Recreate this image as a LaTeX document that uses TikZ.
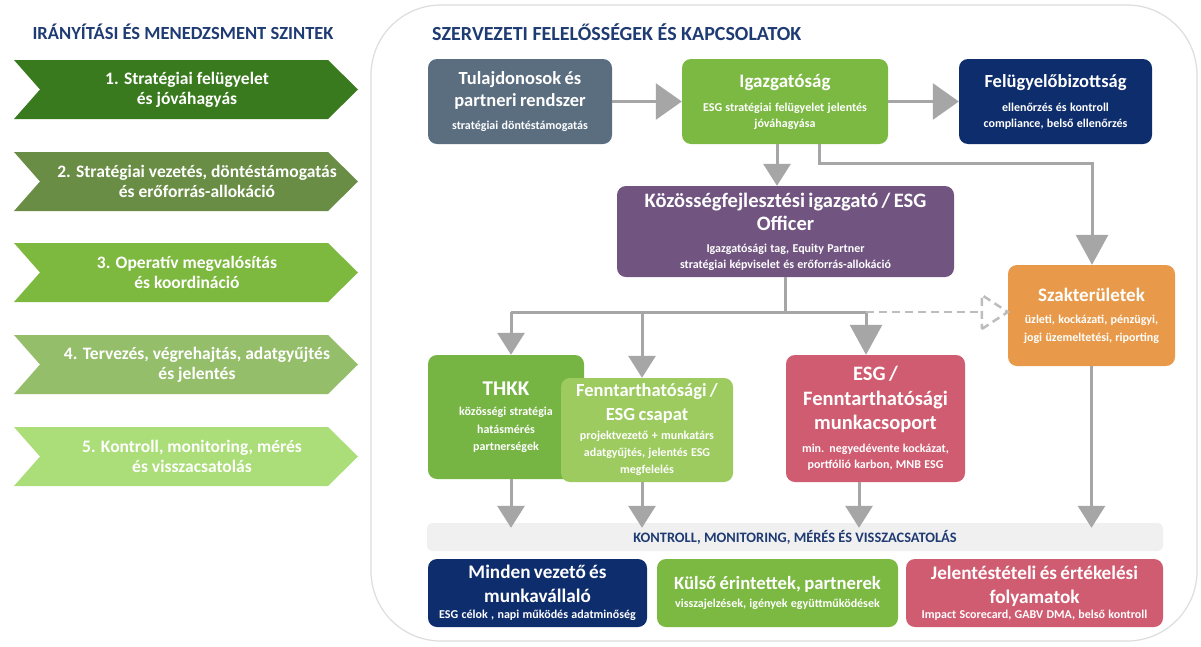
\documentclass[tikz,border=0pt]{standalone}
\usepackage{fontspec}
\setmainfont{Carlito}
\usetikzlibrary{arrows.meta}
\definecolor{navytxt}{HTML}{1F3B73}
\definecolor{chA}{HTML}{3A7A1E}
\definecolor{chB}{HTML}{6A8D45}
\definecolor{chC}{HTML}{7DB83F}
\definecolor{chD}{HTML}{95BE6B}
\definecolor{chE}{HTML}{ABDE78}
\definecolor{tulc}{HTML}{5B6E80}
\definecolor{igc}{HTML}{7CB943}
\definecolor{navyc}{HTML}{0E2D6D}
\definecolor{purc}{HTML}{715480}
\definecolor{orc}{HTML}{E89A4A}
\definecolor{thc}{HTML}{76B444}
\definecolor{fenc}{HTML}{9DCB60}
\definecolor{rosec}{HTML}{D05C71}
\definecolor{arrg}{HTML}{A6A6A6}
\definecolor{dashg}{HTML}{BDBDBD}
\definecolor{barc}{HTML}{F0F0F0}
\definecolor{panelc}{HTML}{DDDDDD}
\newcommand\fsz[2]{\fontsize{#1}{#2}\selectfont}
\newcommand\subt{\fsz{12}{15.5}\bfseries}
\newcommand\subtt{\fsz{12}{17.5}\bfseries}
\newcommand\gp[1]{\vskip#1pt\relax}
\begin{document}
\begin{tikzpicture}[x=1pt,y=-1pt,
  box/.style={rounded corners=9pt, text=white, align=center, inner sep=0pt},
  chevtext/.style={text=white, align=center, font=\fsz{17.5}{20}\bfseries, inner sep=0pt},
  conn/.style={draw=arrg, line width=3pt},
  tipR/.style={-{Triangle[length=26pt,width=36pt]}},
  tipD/.style={-{Triangle[length=22pt,width=27pt]}},
  tipB/.style={-{Triangle[length=30pt,width=32pt]}},
  dashln/.style={draw=dashg, line width=2.5pt, dash pattern=on 8pt off 5pt}
]
\fill[white] (0,0) rectangle (1201,646);
\useasboundingbox (0,0) rectangle (1201,646);

% right panel
\draw[panelc, line width=1.2pt, rounded corners=70pt] (371,5) rectangle (1197,641);

% left header
\node[text=navytxt, font=\fsz{18.5}{22}\bfseries, inner sep=0pt] (lhead) at (183,32) {IRÁNYÍTÁSI ÉS MENEDZSMENT  SZINTEK};

% chevrons
\foreach \c/\y in {chA/60, chB/152, chC/243, chD/335, chE/427}{
  \fill[\c] (14,\y) -- (328,\y) -- (358,\y+29.5) -- (328,\y+59) -- (14,\y+59) -- (40,\y+29.5) -- cycle;
}
\node[chevtext] (ch1) at (187,90) {1. Stratégiai felügyelet\\és jóváhagyás};
\node[chevtext] (ch2) at (197,181.5) {2. Stratégiai vezetés, döntéstámogatás\\és erőforrás-allokáció};
\node[chevtext] (ch3) at (187,272.5) {3. Operatív megvalósítás\\és koordináció};
\node[chevtext] (ch4) at (197,364.5) {4. Tervezés, végrehajtás, adatgyűjtés\\és jelentés};
\node[chevtext] (ch5) at (192,456.5) {5. Kontroll, monitoring,  mérés\\és visszacsatolás};

% right header
\node[text=navytxt, font=\fsz{20}{24}\bfseries, inner sep=0pt, anchor=west] (rhead) at (432,32) {SZERVEZETI FELELŐSSÉGEK ÉS KAPCSOLATOK};

% top row
\node[box, fill=tulc, minimum width=184pt, minimum height=85pt, text width=178pt] (tul) at (520,101.5)
  {{\fsz{18.5}{22}\bfseries Tulajdonosok és\\partneri rendszer\par}\gp{8}{\subt stratégiai döntéstámogatás\par}};
\node[box, fill=igc, minimum width=206pt, minimum height=85pt, text width=200pt] (igz) at (785,101.5)
  {{\fsz{19}{25}\bfseries Igazgatóság\par}\gp{9}{\subt ESG stratégiai felügyelet jelentés\\jóváhagyása\par}};
\node[box, fill=navyc, minimum width=193pt, minimum height=85pt, text width=187pt] (fel) at (1055.5,101.5)
  {{\fsz{18.5}{25}\bfseries Felügyelőbizottság\par}\gp{9}{\subt ellenőrzés és kontroll\\compliance, belső ellenőrzés\par}};

% middle
\node[box, fill=purc, minimum width=337pt, minimum height=91pt, text width=330pt] (koz) at (785.5,231.5)
  {{\fsz{20.5}{23}\bfseries Közösségfejlesztési igazgató / ESG\\Officer\par}\gp{7}{\subt Igazgatósági tag, Equity Partner\\stratégiai képviselet és erőforrás-allokáció\par}};
\node[box, fill=orc, minimum width=167pt, minimum height=101pt, text width=161pt] (szak) at (1091.5,315.5)
  {{\fsz{19}{24}\bfseries Szakterületek\par}\gp{5}{\subtt üzleti, kockázati, pénzügyi,\\jogi üzemeltetési, riporting\par}};

% third row
\node[box, fill=thc, minimum width=156pt, minimum height=124pt, text width=150pt] (thkk) at (506,417)
  {{\fsz{21}{25}\bfseries THKK\par}\gp{3}{\subtt közösségi stratégia\\hatásmérés\\partnerségek\par}};
\node[box, fill=fenc, minimum width=172pt, minimum height=104pt, text width=168pt] (fen) at (647,430)
  {{\fsz{18.5}{24}\bfseries Fenntarthatósági /\\ESG csapat\par}\gp{2}{\fsz{12}{17}\bfseries projektvezető + munkatárs\\adatgyűjtés, jelentés ESG\\megfelelés\par}};
\node[box, fill=rosec, minimum width=179pt, minimum height=127pt, text width=173pt] (esg) at (875.5,418.5)
  {{\fsz{20.5}{24.5}\bfseries ESG /\\Fenntarthatósági\\munkacsoport\par}\gp{6}{\fsz{12}{16.5}\bfseries min. negyedévente kockázat,\\portfólió karbon, MNB ESG\par}};

% bar
\node[rounded corners=5pt, fill=barc, minimum width=736pt, minimum height=28pt, inner sep=0pt,
  text=navytxt, font=\fsz{14.4}{17}\bfseries] (bar) at (795,537) {KONTROLL, MONITORING, MÉRÉS ÉS VISSZACSATOLÁS};

% bottom row
\node[box, fill=navyc, minimum width=219pt, minimum height=68pt, text width=213pt] (mind) at (537.5,593)
  {{\fsz{19.2}{24}\bfseries Minden vezető és\\munkavállaló\par}{\subt ESG célok , napi működés adatminőség\par}};
\node[box, fill=igc, minimum width=241pt, minimum height=68pt, text width=235pt] (kul) at (777.5,593)
  {{\fsz{18.7}{23}\bfseries Külső érintettek, partnerek\par}\gp{3}{\subt visszajelzések,  igények együttműködések\par}};
\node[box, fill=rosec, minimum width=257pt, minimum height=68pt, text width=251pt] (jel) at (1034.5,593)
  {{\fsz{19.2}{24}\bfseries Jelentéstételi és értékelési\\folyamatok\par}{\subt Impact Scorecard, GABV DMA, belső kontroll\par}};

% helper coordinates
\coordinate (a1) at (777,160);
\coordinate (k0) at (819,163);
\coordinate (k1) at (1092,163);
\coordinate (j0) at (785.5,312);
\coordinate (b1) at (511,312);
\coordinate (b2) at (642,312);
\coordinate (b3) at (866,312);
\coordinate (e1) at (859,500);

% connectors
\draw[conn,tipR] (tul.east) -- (igz.west);
\draw[conn,tipR] (igz.east) -- (fel.west);
\draw[conn,tipD] (igz.south -| a1) -- (koz.north -| a1);
\draw[conn,tipB] (igz.south -| k0) |- (k1) -- (szak.north -| k1);
\draw[conn] (koz.south) -- (j0);
\draw[conn] (b1) -- (b3);
\draw[conn,tipD] (b1) -- (thkk.north -| b1);
\draw[conn,tipD] (b2) -- (fen.north -| b2);
\draw[conn,tipB] (b3) -- (esg.north -| b3);
\draw[dashln] (b3) -- ([xshift=-26pt]szak.west |- b3);
\draw[dashln] ([shift={(-26pt,-17pt)}]szak.west |- b3) -- (szak.west |- b3) -- ([shift={(-26pt,17pt)}]szak.west |- b3) -- cycle;
\draw[conn,tipD] (thkk.south -| b1) -- ([yshift=-5pt]bar.north -| b1);
\draw[conn,tipD] (fen.south -| b2) -- ([yshift=-5pt]bar.north -| b2);
\draw[conn,tipD] (esg.south -| e1) -- ([yshift=-5pt]bar.north -| e1);
\draw[conn,tipD] (szak.south) -- ([yshift=-5pt]bar.north -| szak.south);
\end{tikzpicture}
\end{document}
